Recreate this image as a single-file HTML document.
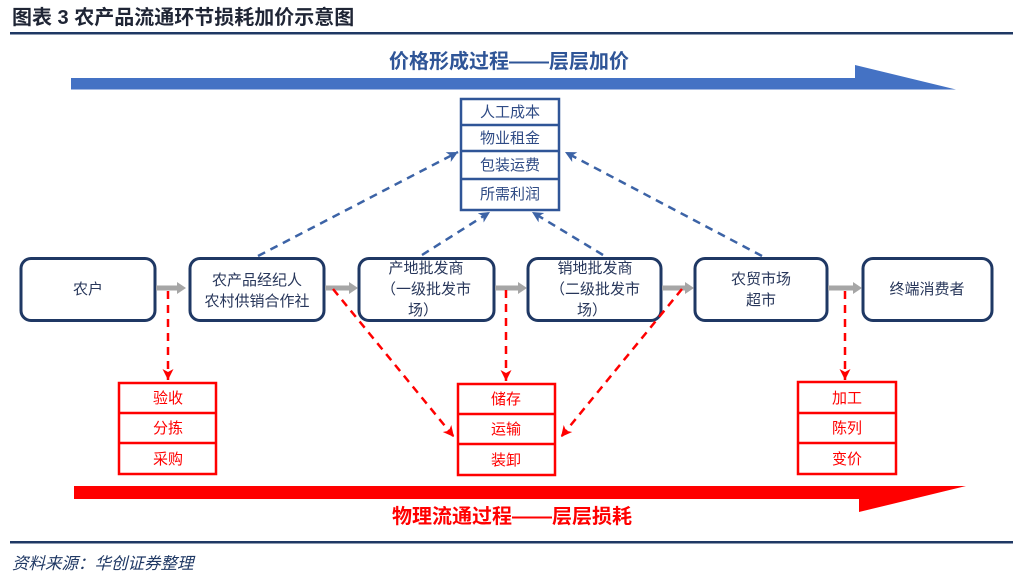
<!DOCTYPE html>
<html lang="zh">
<head>
<meta charset="utf-8">
<style>
  html,body{margin:0;padding:0;background:#fff;}
  body{width:1030px;height:584px;overflow:hidden;}
  svg{display:block;}
  text{font-family:"Liberation Sans","Noto Sans CJK SC",sans-serif;}
</style>
</head>
<body>
<svg width="1030" height="584" viewBox="0 0 1030 584" xmlns="http://www.w3.org/2000/svg">
  <defs>
    <marker id="ab" markerUnits="userSpaceOnUse" markerWidth="12" markerHeight="12" refX="11" refY="6" orient="auto">
      <path d="M0,0.5 L11,6 L0,11.5 L3,6 z" fill="#3c63a6"/>
    </marker>
    <marker id="ar" markerUnits="userSpaceOnUse" markerWidth="12" markerHeight="12" refX="11" refY="6" orient="auto">
      <path d="M0,0.5 L11,6 L0,11.5 L3,6 z" fill="#ff0000"/>
    </marker>
  </defs>

  <!-- title -->
  <text x="12" y="24" font-size="20" font-weight="bold" fill="#1f2535">图表 3 农产品流通环节损耗加价示意图</text>
  <rect x="10" y="32" width="1003" height="2.5" fill="#1f3864"/>

  <!-- blue big arrow -->
  <path d="M71,78 L855,78 L855,65 L956,89.5 L71,89.5 z" fill="#4472c4"/>
  <text x="509" y="68" font-size="20" font-weight="bold" fill="#2f5597" text-anchor="middle">价格形成过程——层层加价</text>

  <!-- top stack -->
  <g stroke="#2f5597" stroke-width="2.5" fill="#fff">
    <rect x="461" y="99" width="98" height="111"/>
    <line x1="461" y1="125" x2="559" y2="125"/>
    <line x1="461" y1="151" x2="559" y2="151"/>
    <line x1="461" y1="179" x2="559" y2="179"/>
  </g>
  <g font-size="15" fill="#2f4b85" text-anchor="middle">
    <text x="510" y="117">人工成本</text>
    <text x="510" y="143">物业租金</text>
    <text x="510" y="170">包装运费</text>
    <text x="510" y="199">所需利润</text>
  </g>

  <!-- blue dashed arrows -->
  <g stroke="#3c63a6" stroke-width="2.5" stroke-dasharray="8,6" fill="none">
    <line x1="258" y1="256" x2="458" y2="152" marker-end="url(#ab)"/>
    <line x1="422" y1="255" x2="490" y2="212" marker-end="url(#ab)"/>
    <line x1="603" y1="255" x2="532" y2="212" marker-end="url(#ab)"/>
    <line x1="762" y1="256" x2="565" y2="152" marker-end="url(#ab)"/>
  </g>

  <!-- main boxes -->
  <g stroke="#1f3864" stroke-width="3" fill="#fff">
    <rect x="21" y="258.5" width="134" height="62" rx="10"/>
    <rect x="190" y="258.5" width="134" height="62" rx="10"/>
    <rect x="359" y="258.5" width="135" height="62" rx="10"/>
    <rect x="528" y="258.5" width="133" height="62" rx="10"/>
    <rect x="695" y="258.5" width="132" height="62" rx="10"/>
    <rect x="863" y="258.5" width="129" height="62" rx="10"/>
  </g>
  <g font-size="15" fill="#27365a" text-anchor="middle">
    <text x="88" y="294">农户</text>
    <text x="257" y="285">农产品经纪人</text>
    <text x="257" y="306">农村供销合作社</text>
    <text x="426" y="273">产地批发商</text>
    <text x="426" y="294">（一级批发市</text>
    <text x="423" y="315">场）</text>
    <text x="595" y="273">销地批发商</text>
    <text x="595" y="294">（二级批发市</text>
    <text x="592" y="315">场）</text>
    <text x="761" y="284">农贸市场</text>
    <text x="761" y="305">超市</text>
    <text x="927" y="294">终端消费者</text>
  </g>

  <!-- gray arrows -->
  <g fill="#a6a6a6">
    <path d="M156,285.5 L177,285.5 L177,282 L186,288 L177,294 L177,290.5 L156,290.5 z"/>
    <path d="M325,285.5 L349,285.5 L349,282 L358,288 L349,294 L349,290.5 L325,290.5 z"/>
    <path d="M495,285.5 L518,285.5 L518,282 L527,288 L518,294 L518,290.5 L495,290.5 z"/>
    <path d="M662,285.5 L685,285.5 L685,282 L694,288 L685,294 L685,290.5 L662,290.5 z"/>
    <path d="M828,285.5 L853,285.5 L853,282 L862,288 L853,294 L853,290.5 L828,290.5 z"/>
  </g>

  <!-- red dashed arrows -->
  <g stroke="#ff0000" stroke-width="2.5" stroke-dasharray="8,6" fill="none">
    <line x1="168" y1="291" x2="168" y2="380" marker-end="url(#ar)"/>
    <line x1="506" y1="290" x2="506" y2="381" marker-end="url(#ar)"/>
    <line x1="845" y1="291" x2="845" y2="380" marker-end="url(#ar)"/>
    <line x1="333" y1="289" x2="454" y2="437" marker-end="url(#ar)"/>
    <line x1="682" y1="289" x2="561" y2="437" marker-end="url(#ar)"/>
  </g>

  <!-- red boxes -->
  <g stroke="#ff0000" stroke-width="2.5" fill="#fff">
    <rect x="119" y="383" width="97" height="91"/>
    <line x1="119" y1="413" x2="216" y2="413"/>
    <line x1="119" y1="443" x2="216" y2="443"/>
    <rect x="458" y="384" width="97" height="91"/>
    <line x1="458" y1="414" x2="555" y2="414"/>
    <line x1="458" y1="444" x2="555" y2="444"/>
    <rect x="798" y="382" width="98" height="92"/>
    <line x1="798" y1="413" x2="896" y2="413"/>
    <line x1="798" y1="443" x2="896" y2="443"/>
  </g>
  <g font-size="15" fill="#ff0000" text-anchor="middle">
    <text x="168" y="403">验收</text>
    <text x="168" y="433">分拣</text>
    <text x="168" y="464">采购</text>
    <text x="506" y="404">储存</text>
    <text x="506" y="434">运输</text>
    <text x="506" y="465">装卸</text>
    <text x="847" y="403">加工</text>
    <text x="847" y="433">陈列</text>
    <text x="847" y="464">变价</text>
  </g>

  <!-- red big arrow -->
  <path d="M74,486 L966,486 L859,512 L859,499 L74,499 z" fill="#ff0000"/>
  <text x="512" y="523" font-size="20" font-weight="bold" fill="#ff0000" text-anchor="middle">物理流通过程——层层损耗</text>

  <!-- footer -->
  <rect x="10" y="541" width="1003" height="2.5" fill="#1f3864"/>
  <text x="12" y="569" font-size="16.5" font-style="italic" fill="#1f3864">资料来源：华创证券整理</text>
</svg>
</body>
</html>
